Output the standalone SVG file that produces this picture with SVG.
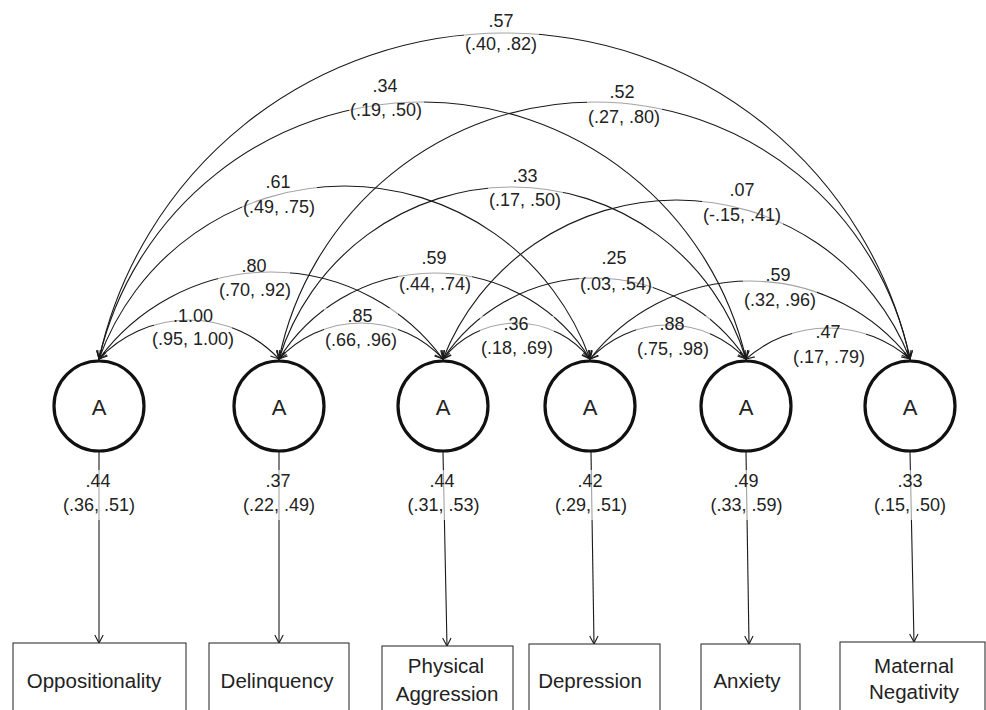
<svg xmlns="http://www.w3.org/2000/svg" width="986" height="710" viewBox="0 0 986 710">
<defs>
<marker id="ah" markerUnits="userSpaceOnUse" markerWidth="14" markerHeight="14" viewBox="-11 -7 14 14" refX="0" refY="0" orient="auto-start-reverse">
<path d="M-8,-4.2 L0,0 L-8,4.2" fill="none" stroke="#1a1a1a" stroke-width="1.1"/>
</marker>
<style>
.arc{fill:none;stroke:#1a1a1a;stroke-width:1.1;marker-start:url(#ah);marker-end:url(#ah)}
.load{fill:none;stroke:#1a1a1a;stroke-width:1.1;marker-end:url(#ah)}
.lat{fill:#fff;stroke:#111;stroke-width:3.2}
.obs{fill:#fff;stroke:#333;stroke-width:1.1}
.bg{fill:#fff;fill-opacity:0.6}
text{font-family:"Liberation Sans",Arial,sans-serif;fill:#222;text-anchor:middle}
.num{font-size:18px}
.a{font-size:22px}
.box{font-size:20.5px}
</style>
</defs>
<rect width="986" height="710" fill="#fff"/>
<g id="connectors">
<path class="arc" d="M99,359 A123.35,123.35 0 0 1 279,359"/>
<path class="arc" d="M279,359 A111.39,111.39 0 0 1 443,359"/>
<path class="arc" d="M443,359 A93.03,93.03 0 0 1 590,359"/>
<path class="arc" d="M590,359 A106.47,106.47 0 0 1 746,359"/>
<path class="arc" d="M746,359 A123.95,123.95 0 0 1 910,359"/>
<path class="arc" d="M99,359 A213.52,213.52 0 0 1 443,359"/>
<path class="arc" d="M279,359 A183.58,183.58 0 0 1 590,359"/>
<path class="arc" d="M443,359 A182.17,182.17 0 0 1 746,359"/>
<path class="arc" d="M590,359 A203.1,203.1 0 0 1 910,359"/>
<path class="arc" d="M99,359 A260.69,260.69 0 0 1 590,359"/>
<path class="arc" d="M279,359 A244.5,244.5 0 0 1 746,359"/>
<path class="arc" d="M443,359 A250.95,250.95 0 0 1 910,359"/>
<path class="arc" d="M99,359 A332.1,332.1 0 0 1 746,359"/>
<path class="arc" d="M279,359 A322.16,322.16 0 0 1 910,359"/>
<path class="arc" d="M99,359 A415.19,415.19 0 0 1 910,359"/>
<path class="load" d="M99,452 L99,643"/>
<path class="load" d="M279,452 L279,643"/>
<path class="load" d="M443,452 L447,646"/>
<path class="load" d="M591,452 L594,644"/>
<path class="load" d="M746,452 L749,644"/>
<path class="load" d="M910,452 L914,642"/>
</g>
<g id="arc-labels">
<g id="l16"><rect class="bg" x="464" y="13" width="75" height="41"/><text class="num" x="501" y="27">.57</text><text class="num" x="501" y="50">(.40, .82)</text></g>
<g id="l15"><rect class="bg" x="349" y="78" width="75" height="42"/><text class="num" x="385" y="92">.34</text><text class="num" x="386" y="116">(.19, .50)</text></g>
<g id="l26"><rect class="bg" x="587" y="84" width="75" height="43"/><text class="num" x="622" y="98">.52</text><text class="num" x="624" y="123">(.27, .80)</text></g>
<g id="l14"><rect class="bg" x="242" y="174" width="75" height="43"/><text class="num" x="278" y="188">.61</text><text class="num" x="279" y="213">(.49, .75)</text></g>
<g id="l25"><rect class="bg" x="488" y="168" width="75" height="42"/><text class="num" x="525" y="182">.33</text><text class="num" x="525" y="206">(.17, .50)</text></g>
<g id="l36"><rect class="bg" x="702" y="182" width="81" height="43"/><text class="num" x="742" y="196">.07</text><text class="num" x="742" y="221">(-.15, .41)</text></g>
<g id="l13"><rect class="bg" x="218" y="258" width="72" height="42"/><text class="num" x="254" y="272">.80</text><text class="num" x="255" y="296">(.70, .92)</text></g>
<g id="l24"><rect class="bg" x="398" y="250" width="74" height="44"/><text class="num" x="434" y="264">.59</text><text class="num" x="435" y="290">(.44, .74)</text></g>
<g id="l35"><rect class="bg" x="579" y="250" width="74" height="44"/><text class="num" x="614" y="264">.25</text><text class="num" x="616" y="290">(.03, .54)</text></g>
<g id="l46"><rect class="bg" x="743" y="267" width="74" height="43"/><text class="num" x="778" y="281">.59</text><text class="num" x="780" y="306">(.32, .96)</text></g>
<g id="l12"><rect class="bg" x="154" y="308" width="78" height="41"/><text class="num" x="193" y="322">.1.00</text><text class="num" x="193" y="345">(.95, 1.00)</text></g>
<g id="l23"><rect class="bg" x="324" y="308" width="74" height="42"/><text class="num" x="360" y="322">.85</text><text class="num" x="361" y="346">(.66, .96)</text></g>
<g id="l34"><rect class="bg" x="480" y="316" width="74" height="42"/><text class="num" x="516" y="330">.36</text><text class="num" x="517" y="354">(.18, .69)</text></g>
<g id="l45"><rect class="bg" x="636" y="316" width="74" height="43"/><text class="num" x="672" y="330">.88</text><text class="num" x="673" y="355">(.75, .98)</text></g>
<g id="l56"><rect class="bg" x="792" y="324" width="74" height="43"/><text class="num" x="828" y="338">.47</text><text class="num" x="829" y="363">(.17, .79)</text></g>
</g>
<g id="loading-labels">
<g id="ld1"><rect class="bg" x="62" y="470" width="75" height="50"/><text class="num" x="98" y="487">.44</text><text class="num" x="99" y="511">(.36, .51)</text></g>
<g id="ld2"><rect class="bg" x="242" y="470" width="75" height="50"/><text class="num" x="278" y="487">.37</text><text class="num" x="279" y="511">(.22, .49)</text></g>
<g id="ld3"><rect class="bg" x="406" y="470" width="75" height="50"/><text class="num" x="442" y="487">.44</text><text class="num" x="443.5" y="511">(.31, .53)</text></g>
<g id="ld4"><rect class="bg" x="554" y="470" width="75" height="50"/><text class="num" x="590" y="487">.42</text><text class="num" x="591" y="511">(.29, .51)</text></g>
<g id="ld5"><rect class="bg" x="709" y="470" width="75" height="50"/><text class="num" x="746" y="487">.49</text><text class="num" x="746.5" y="511">(.33, .59)</text></g>
<g id="ld6"><rect class="bg" x="874" y="470" width="72" height="50"/><text class="num" x="910" y="487">.33</text><text class="num" x="910" y="511">(.15, .50)</text></g>
</g>
<g id="latent-1"><circle class="lat" cx="99" cy="406" r="45"/><text class="a" x="99" y="415">A</text></g>
<g id="latent-2"><circle class="lat" cx="279" cy="406" r="45"/><text class="a" x="279" y="415">A</text></g>
<g id="latent-3"><circle class="lat" cx="443" cy="406" r="45"/><text class="a" x="443" y="415">A</text></g>
<g id="latent-4"><circle class="lat" cx="590" cy="406" r="45"/><text class="a" x="590" y="415">A</text></g>
<g id="latent-5"><circle class="lat" cx="746" cy="406" r="45"/><text class="a" x="746" y="415">A</text></g>
<g id="latent-6"><circle class="lat" cx="910" cy="406" r="45"/><text class="a" x="910" y="415">A</text></g>
<g id="obs-oppositionality"><rect class="obs" x="13" y="643" width="173" height="80"/><text class="box" x="94" y="688">Oppositionality</text></g>
<g id="obs-delinquency"><rect class="obs" x="209" y="643" width="140" height="80"/><text class="box" x="277" y="688">Delinquency</text></g>
<g id="obs-physical-aggression"><rect class="obs" x="382" y="646" width="131" height="80"/><text class="box" x="446" y="673">Physical</text><text class="box" x="447" y="701">Aggression</text></g>
<g id="obs-depression"><rect class="obs" x="529" y="644" width="131" height="80"/><text class="box" x="590" y="688">Depression</text></g>
<g id="obs-anxiety"><rect class="obs" x="701" y="644" width="99" height="80"/><text class="box" x="747" y="688">Anxiety</text></g>
<g id="obs-maternal-negativity"><rect class="obs" x="840" y="642" width="145" height="80"/><text class="box" x="914" y="673">Maternal</text><text class="box" x="914" y="699">Negativity</text></g>
</svg>
